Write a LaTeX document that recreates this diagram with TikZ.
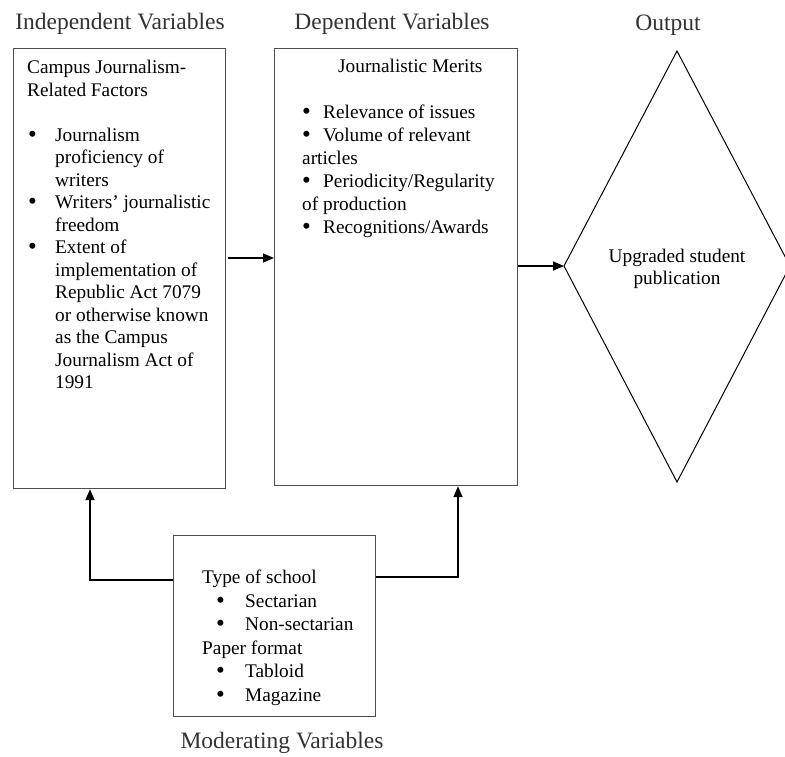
\documentclass[tikz,border=0pt]{standalone}
\usepackage{fontspec}
\setmainfont{Liberation Serif}
\usetikzlibrary{arrows.meta}
\newcommand\mybul[2]{\makebox[#2pt][l]{\hspace*{#1pt}\raisebox{-1.2pt}{\fontsize{25}{25}\selectfont\textbullet}}}
\newcommand\myind[1]{\hspace*{#1pt}}
\begin{document}
\begin{tikzpicture}[x=1pt,y=-1pt,
  box/.style={draw=black!70,line width=1.2pt,inner sep=0pt,anchor=north west},
  txt/.style={align=left,inner sep=0pt,anchor=north west},
  head/.style={font=\fontsize{23.5}{28}\selectfont,text=black!80,inner sep=0pt,anchor=base},
  conn/.style={line width=1.6pt,-{Triangle[length=11pt,width=9pt]}}]
\useasboundingbox (0,0) rectangle (785,756);
% headers
\node[head] (h1) at (120,29) {Independent Variables};
\node[head] (h2) at (392,29) {Dependent Variables};
\node[head] (h3) at (668,30) {Output};
\node[head] (h4) at (282,748) {Moderating Variables};
% boxes
\node[box,minimum width=212pt,minimum height=440pt] (ind) at (13,48) {};
\node[box,minimum width=243pt,minimum height=437pt] (dep) at (274,48) {};
\node[box,minimum width=202pt,minimum height=181pt] (mod) at (173,535) {};
% texts
\node[txt,font=\fontsize{19.3}{22.5}\selectfont] (indtxt) at (27,60) {Campus Journalism-\\Related Factors\\[22.5pt]
\mybul{1}{28}Journalism\\
\myind{28}proficiency of\\
\myind{28}writers\\
\mybul{1}{28}Writers’ journalistic\\
\myind{28}freedom\\
\mybul{1}{28}Extent of\\
\myind{28}implementation of\\
\myind{28}Republic Act 7079\\
\myind{28}or otherwise known\\
\myind{28}as the Campus\\
\myind{28}Journalism Act of\\
\myind{28}1991};
\node[txt,font=\fontsize{19.3}{23}\selectfont] (deptxt) at (302,59) {\myind{36}Journalistic Merits\\[23pt]
\mybul{0}{21}Relevance of issues\\
\mybul{0}{21}Volume of relevant\\
articles\\
\mybul{0}{21}Periodicity/Regularity\\
of production\\
\mybul{0}{21}Recognitions/Awards};
\node[txt,font=\fontsize{19.3}{23.5}\selectfont] (modtxt) at (202,570) {Type of school\\
\mybul{14}{43}Sectarian\\
\mybul{14}{43}Non-sectarian\\
Paper format\\
\mybul{14}{43}Tabloid\\
\mybul{14}{43}Magazine};
% diamond
\coordinate (dT) at (677,51);
\coordinate (dL) at (564,266);
\coordinate (dB) at (677,482);
\coordinate (dR) at (790,266);
\draw[line width=1pt] (dT) -- (dR) -- (dB) -- (dL) -- cycle;
\node[align=center,inner sep=0pt,anchor=north,font=\fontsize{19.3}{21.5}\selectfont] (outtxt) at (677,249) {Upgraded student\\publication};
% connectors
\coordinate (a1) at (228,258);
\draw[conn] (a1) -- (a1 -| dep.west);
\draw[conn] (dep.east |- dL) -- (dL);
\coordinate (m1) at (90,580);
\draw[conn] (mod.west |- m1) -- (m1) -- (m1 |- ind.south);
\coordinate (m2) at (458,577);
\draw[conn] (mod.east |- m2) -- (m2) -- (m2 |- dep.south);
\end{tikzpicture}
\end{document}
